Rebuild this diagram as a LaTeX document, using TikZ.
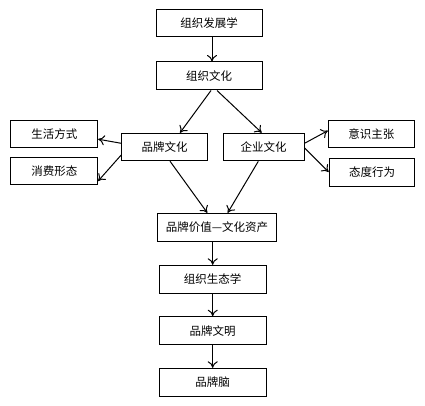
\documentclass[tikz,border=0pt]{standalone}
\usepackage{fontspec}
\setmainfont{Noto Sans CJK SC}
\usetikzlibrary{arrows,arrows.meta,positioning,calc}
\tikzset{kuang/.style={draw=black, line width=1pt, inner sep=0pt, font=\fontsize{11.5}{12}\selectfont},
         jian/.style={-{To[length=6.5pt,width=10pt]}, line width=1pt}}

\begin{document}
\begin{tikzpicture}[x=1pt, y=-1pt]
    \useasboundingbox (0, 0) rectangle (425, 406);
    % main column
    \node[kuang, minimum width=106pt, minimum height=27pt] (fazhan) at (209, 23.5) {组织发展学};
    \node[kuang, minimum width=106pt, minimum height=28pt] (wenhua) at (209, 76) {组织文化};
    \node[kuang, minimum width=85.6pt, minimum height=27.4pt] (pinpai) at (164.5, 147) {品牌文化};
    \node[kuang, minimum width=80.7pt, minimum height=27.6pt] (qiye) at (263.7, 147) {企业文化};
    \node[kuang, minimum width=119.7pt, minimum height=28pt] (jiazhi) at (217, 227.3) {品牌价值—文化资产};
    \node[kuang, minimum width=106.7pt, minimum height=28pt] (shengtai) at (212.7, 279.3) {组织生态学};
    \node[kuang, minimum width=106.7pt, minimum height=28pt] (wenming) at (212.7, 330.7) {品牌文明};
    \node[kuang, minimum width=106.7pt, minimum height=28.4pt] (nao) at (212.7, 382.5) {品牌脑};
    % side boxes
    \node[kuang, minimum width=86.7pt, minimum height=27pt] (shenghuo) at (54.3, 134.2) {生活方式};
    \node[kuang, minimum width=86.7pt, minimum height=27.3pt] (xiaofei) at (54.3, 171.3) {消费形态};
    \node[kuang, minimum width=86pt, minimum height=27pt] (yishi) at (371.3, 134) {意识主张};
    \node[kuang, minimum width=85.7pt, minimum height=27pt] (taidu) at (372, 172.5) {态度行为};

    \draw[jian] ([xshift=3pt]fazhan.south) -- ([xshift=3pt]wenhua.north);
    \draw[jian] ([xshift=2pt]wenhua.south) -- ([xshift=15.5pt]pinpai.north);
    \draw[jian] ([xshift=8pt]wenhua.south) -- ([xshift=-2pt]qiye.north);
    \draw[jian] ([yshift=3.7pt]pinpai.west) -- ([yshift=-5pt]shenghuo.east);
    \draw[jian] ([yshift=-8pt]pinpai.west) -- ([yshift=-9.7pt]xiaofei.east);
    \draw[jian] ([yshift=3.7pt]qiye.east) -- ([yshift=3.3pt]yishi.west);
    \draw[jian] ([yshift=-1pt]qiye.east) -- ([yshift=0.5pt]taidu.west);
    \draw[jian] ([xshift=5.5pt]pinpai.south) -- ([xshift=-9.7pt]jiazhi.north);
    \draw[jian] ([xshift=-5.4pt]qiye.south) -- ([xshift=10.7pt]jiazhi.north);
    \draw[jian] ([xshift=-4.3pt]jiazhi.south) -- (shengtai.north);
    \draw[jian] (shengtai) -- (wenming);
    \draw[jian] (wenming) -- (nao);
\end{tikzpicture}
\end{document}
